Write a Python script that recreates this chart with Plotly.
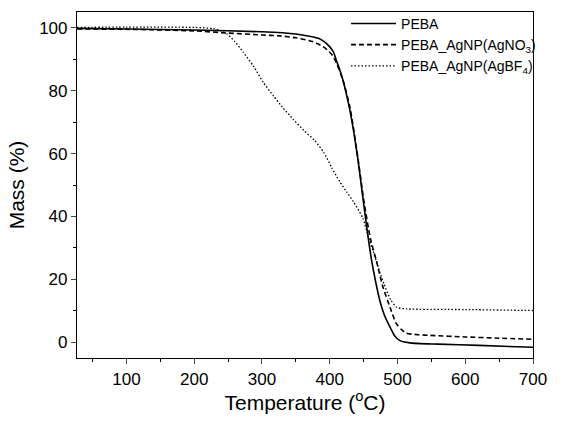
import plotly.graph_objects as go

# PEBA
t_peba = [27, 100, 200, 300, 350, 370, 385, 395, 405, 410, 415, 420, 425, 430, 435, 442, 448,
          455, 462, 468, 474, 480, 489, 496, 503, 518, 560, 620, 700]
m_peba = [99.8, 99.6, 99.3, 98.7, 98.0, 97.3, 96.5, 95.0, 92.5, 89.5, 86.5, 83.0, 78.5, 73.5, 67.5,
          57.5, 47.5, 36.0, 25.8, 19.0, 13.2, 9.0, 4.8, 2.0, 0.6, -0.2, -0.6, -1.0, -1.6]

# PEBA_AgNP(AgNO3)
t_no3 = [27, 100, 200, 250, 300, 327, 350, 375, 390, 396, 403, 410, 420, 430, 442, 450, 460,
         469, 478, 489, 498, 506, 513, 530, 548, 600, 650, 700]
m_no3 = [99.6, 99.5, 99.0, 98.3, 97.7, 97.4, 96.8, 95.6, 94.0, 93.0, 91.5, 88.8, 83.0, 74.5, 58.0,
         45.5, 33.0, 25.8, 18.0, 11.1, 6.0, 4.0, 2.9, 2.4, 2.2, 1.7, 1.3, 0.95]

# PEBA_AgNP(AgBF4)
t_bf4 = [27, 100, 200, 228, 240, 248, 260, 272, 288, 302, 317, 330, 346, 362, 378, 391, 403,
         415, 425, 435, 449, 457, 464, 472, 480, 490, 499, 514, 600, 700]
m_bf4 = [100.1, 100.2, 100.1, 99.7, 99.0, 98.1, 95.6, 92.3, 87.6, 82.6, 78.3, 74.8, 70.9, 67.3,
         64.1, 60.4, 55.5, 51.0, 47.8, 44.7, 39.4, 33.5, 29.0, 23.5, 18.5, 13.5, 11.1, 10.6,
         10.4, 10.1]

fnt = "Liberation Sans, Arial, sans-serif"

fig = go.Figure()
fig.add_trace(go.Scatter(x=t_peba, y=m_peba, mode='lines', name='PEBA',
                         line=dict(color='black', width=1.6, shape='spline', smoothing=0.6)))
fig.add_trace(go.Scatter(x=t_no3, y=m_no3, mode='lines', name='PEBA_AgNP(AgNO<sub>3</sub>)',
                         line=dict(color='black', width=1.6, dash='5px,3px', shape='spline',
                                   smoothing=0.6)))
fig.add_trace(go.Scatter(x=t_bf4, y=m_bf4, mode='lines', name='PEBA_AgNP(AgBF<sub>4</sub>)',
                         line=dict(color='black', width=1.3, dash='1.5px,2px', shape='spline',
                                   smoothing=0.6)))

fig.update_layout(
    width=572, height=423,
    margin=dict(l=77, r=39, t=8, b=65),
    paper_bgcolor='white', plot_bgcolor='white',
    font=dict(family=fnt, color='black', size=17),
    legend=dict(x=0.59, y=1.012, xanchor='left', yanchor='top', bgcolor='rgba(0,0,0,0)',
                font=dict(size=14), itemwidth=45),
)
fig.update_xaxes(range=[27, 700], dtick=100, tick0=0, ticks='outside', ticklen=5,
                 showline=True, linecolor='black', linewidth=1.2, mirror=True,
                 showgrid=False, zeroline=False,
                 minor=dict(ticks='outside', dtick=50, tick0=0, ticklen=3, tickcolor='black'),
                 title=dict(text='Temperature (<sup>o</sup>C)', font=dict(size=21), standoff=6))
fig.update_yaxes(range=[-5, 105], dtick=20, tick0=0, ticks='outside', ticklen=5,
                 showline=True, linecolor='black', linewidth=1.2, mirror=True,
                 showgrid=False, zeroline=False,
                 minor=dict(ticks='outside', dtick=10, tick0=0, ticklen=3, tickcolor='black'),
                 title=dict(text='Mass (%)', font=dict(size=21), standoff=8))

fig.write_html("out.html", config={'displayModeBar': False},
               post_script="document.body.style.margin='0';")
